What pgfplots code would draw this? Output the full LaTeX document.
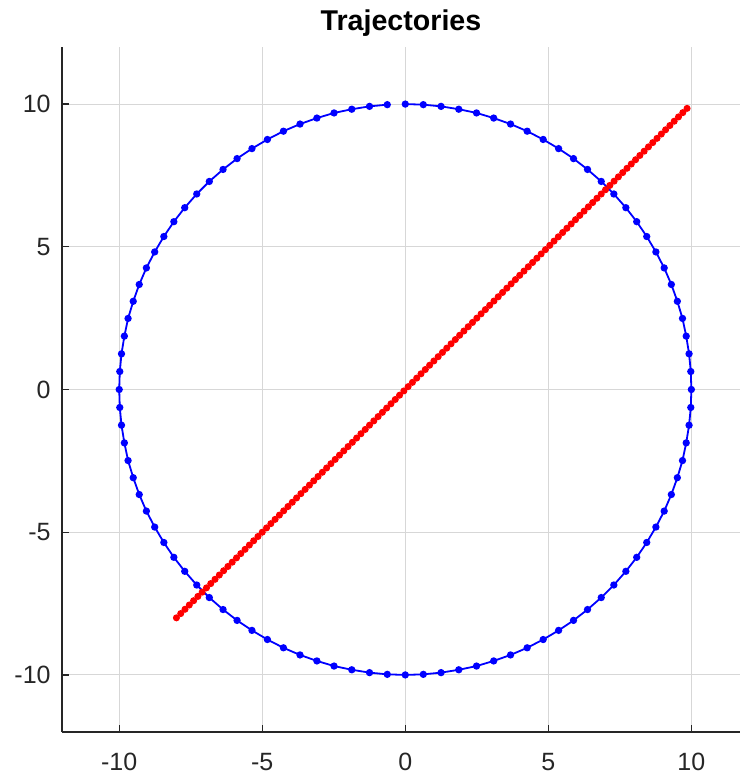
\documentclass[border=0pt]{standalone}
\usepackage{fontspec}
\setmainfont{Liberation Sans}
\usepackage{pgfplots}
\pgfplotsset{compat=1.18}
\definecolor{axgray}{RGB}{38,38,38}
\definecolor{gridgray}{RGB}{215,215,215}
\begin{document}
\begin{tikzpicture}
\begin{axis}[name=ax, scale only axis, width=339pt, height=342.5pt,
 xmin=-12, xmax=11.7, ymin=-12, ymax=12,
 axis x line*=bottom, axis y line*=left,
 axis line style={axgray, line width=0.6pt, -},
 xtick={-10,-5,0,5,10}, ytick={-10,-5,0,5,10},
 tick align=inside, major tick length=3.5pt, tick style={axgray, line width=0.6pt},
 grid=major, major grid style={gridgray, line width=0.5pt},
 ticklabel style={font=\fontsize{12.5}{14}\selectfont, text=axgray},
 /pgf/number format/assume math mode=true,
 xticklabel style={inner sep=0pt, anchor=north, yshift=-10.5pt},
 yticklabel style={inner sep=0pt, anchor=east, xshift=-5.5pt},
 every axis title shift=0pt,
 title={Trajectories},
 title style={font=\bfseries\fontsize{14.3}{16}\selectfont, at={(0.5,1)}, anchor=base, yshift=8pt},
]
\addplot[blue, line width=0.9pt, mark=*, mark size=1.35pt, mark options={solid, fill=blue, draw=blue}] coordinates {
(0,10) (0.63,9.98) (1.25,9.92) (1.87,9.82) (2.49,9.69) (3.09,9.51) (3.68,9.30) (4.26,9.05) (4.82,8.76) (5.36,8.44) (5.88,8.09) (6.37,7.71) (6.85,7.29) (7.29,6.85) (7.71,6.37) (8.09,5.88) (8.44,5.36) (8.76,4.82) (9.05,4.26) (9.30,3.68) (9.51,3.09) (9.69,2.49) (9.82,1.87) (9.92,1.25) (9.98,0.63) (10,0)
(9.98,-0.63) (9.92,-1.25) (9.82,-1.87) (9.69,-2.49) (9.51,-3.09) (9.30,-3.68) (9.05,-4.26) (8.76,-4.82) (8.44,-5.36) (8.09,-5.88) (7.71,-6.37) (7.29,-6.85) (6.85,-7.29) (6.37,-7.71) (5.88,-8.09) (5.36,-8.44) (4.82,-8.76) (4.26,-9.05) (3.68,-9.30) (3.09,-9.51) (2.49,-9.69) (1.87,-9.82) (1.25,-9.92) (0.63,-9.98) (0,-10)
(-0.63,-9.98) (-1.25,-9.92) (-1.87,-9.82) (-2.49,-9.69) (-3.09,-9.51) (-3.68,-9.30) (-4.26,-9.05) (-4.82,-8.76) (-5.36,-8.44) (-5.88,-8.09) (-6.37,-7.71) (-6.85,-7.29) (-7.29,-6.85) (-7.71,-6.37) (-8.09,-5.88) (-8.44,-5.36) (-8.76,-4.82) (-9.05,-4.26) (-9.30,-3.68) (-9.51,-3.09) (-9.69,-2.49) (-9.82,-1.87) (-9.92,-1.25) (-9.98,-0.63) (-10,0)
(-9.98,0.63) (-9.92,1.25) (-9.82,1.87) (-9.69,2.49) (-9.51,3.09) (-9.30,3.68) (-9.05,4.26) (-8.76,4.82) (-8.44,5.36) (-8.09,5.88) (-7.71,6.37) (-7.29,6.85) (-6.85,7.29) (-6.37,7.71) (-5.88,8.09) (-5.36,8.44) (-4.82,8.76) (-4.26,9.05) (-3.68,9.30) (-3.09,9.51) (-2.49,9.69) (-1.87,9.82) (-1.25,9.92) (-0.63,9.98)
};
\addplot[red, line width=0.6pt, mark=*, mark size=1.45pt, mark options={solid, fill=red, draw=red}] table[header=false, x index=0, y index=0, row sep=\\] {
-8.00\\ -7.85\\ -7.70\\ -7.55\\ -7.40\\ -7.25\\ -7.10\\ -6.95\\ -6.80\\ -6.65\\
-6.50\\ -6.35\\ -6.20\\ -6.05\\ -5.90\\ -5.75\\ -5.60\\ -5.45\\ -5.30\\ -5.15\\
-5.00\\ -4.85\\ -4.70\\ -4.55\\ -4.40\\ -4.25\\ -4.10\\ -3.95\\ -3.80\\ -3.65\\
-3.50\\ -3.35\\ -3.20\\ -3.05\\ -2.90\\ -2.75\\ -2.60\\ -2.45\\ -2.30\\ -2.15\\
-2.00\\ -1.85\\ -1.70\\ -1.55\\ -1.40\\ -1.25\\ -1.10\\ -0.95\\ -0.80\\ -0.65\\
-0.50\\ -0.35\\ -0.20\\ -0.05\\ 0.10\\ 0.25\\ 0.40\\ 0.55\\ 0.70\\ 0.85\\
1.00\\ 1.15\\ 1.30\\ 1.45\\ 1.60\\ 1.75\\ 1.90\\ 2.05\\ 2.20\\ 2.35\\
2.50\\ 2.65\\ 2.80\\ 2.95\\ 3.10\\ 3.25\\ 3.40\\ 3.55\\ 3.70\\ 3.85\\
4.00\\ 4.15\\ 4.30\\ 4.45\\ 4.60\\ 4.75\\ 4.90\\ 5.05\\ 5.20\\ 5.35\\
5.50\\ 5.65\\ 5.80\\ 5.95\\ 6.10\\ 6.25\\ 6.40\\ 6.55\\ 6.70\\ 6.85\\
7.00\\ 7.15\\ 7.30\\ 7.45\\ 7.60\\ 7.75\\ 7.90\\ 8.05\\ 8.20\\ 8.35\\
8.50\\ 8.65\\ 8.80\\ 8.95\\ 9.10\\ 9.25\\ 9.40\\ 9.55\\ 9.70\\ 9.85\\
};
\end{axis}
\pgfresetboundingbox
\path ([shift={(-31pt,-23pt)}]ax.south west) rectangle ([shift={(339pt,366pt)}]ax.south west);
\end{tikzpicture}
\end{document}
